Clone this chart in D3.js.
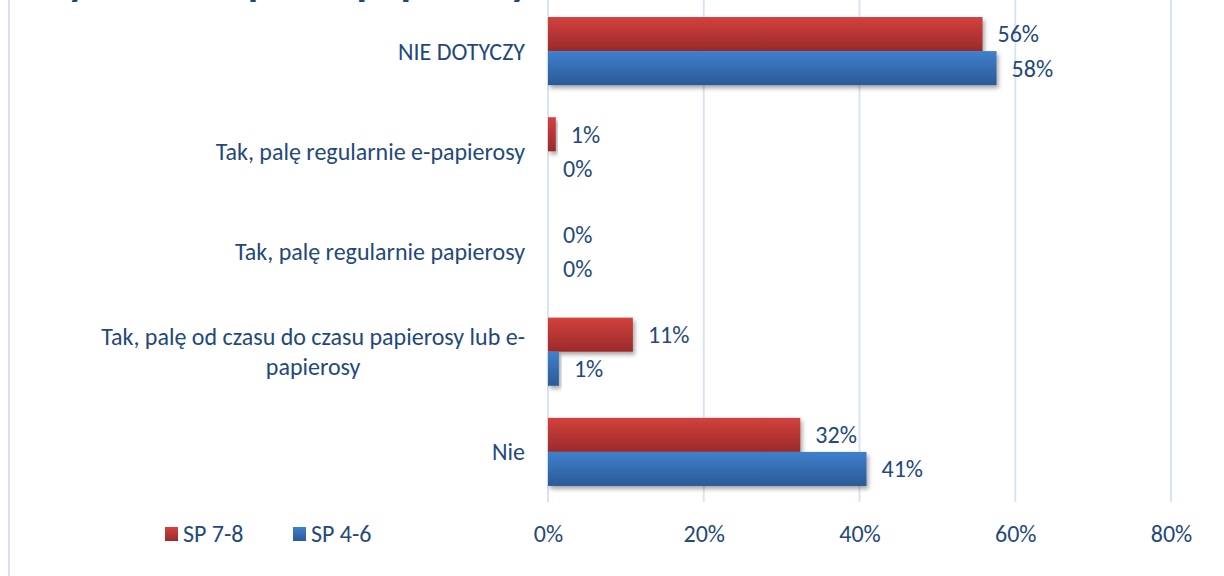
<!DOCTYPE html>
<html>
<head>
<meta charset="utf-8">
<script src="https://cdn.jsdelivr.net/npm/d3@7/dist/d3.min.js"></script>
<style>
  html, body { margin: 0; padding: 0; background: #fff; }
  svg { display: block; }
  text { font-family: Carlito, Lato, "Open Sans", sans-serif; fill: #1F497D; }
</style>
</head>
<body>
<svg id="chart" width="1224" height="576"></svg>
<script>
// ---- data ----
const titleText = "Czy obecnie palisz papierosy?";
const categories = [
  "NIE DOTYCZY",
  "Tak, palę regularnie e-papierosy",
  "Tak, palę regularnie papierosy",
  "Tak, palę od czasu do czasu papierosy lub e-papierosy",
  "Nie"
];
const seriesNames = ["SP 7-8", "SP 4-6"];
const sp78 = [55.8, 1.0, 0, 10.9, 32.4];
const sp46 = [57.6, 0, 0, 1.4, 40.9];
const xTicks = [0, 20, 40, 60, 80];

// ---- layout ----
const W = 1224, H = 576;
const FS = 24;
const plot = { left: 548, right: 1171, top: 1, bottom: 502 };
const svg = d3.select("#chart");

const defs = svg.append("defs");
const grads = [
  { id: "gRed", top: "#d3413d", bottom: "#9a2a2a" },
  { id: "gBlue", top: "#3f80cd", bottom: "#2b5a97" }
];
grads.forEach(g => {
  const lg = defs.append("linearGradient").attr("id", g.id)
    .attr("x1", 0).attr("y1", 0).attr("x2", 0).attr("y2", 1);
  lg.append("stop").attr("offset", "0%").attr("stop-color", g.top);
  lg.append("stop").attr("offset", "100%").attr("stop-color", g.bottom);
});
const f = defs.append("filter").attr("id", "shadow")
  .attr("x", "-10%").attr("y", "-20%").attr("width", "130%").attr("height", "160%");
f.append("feDropShadow").attr("dx", 2).attr("dy", 3).attr("stdDeviation", 2.2)
  .attr("flood-color", "#000").attr("flood-opacity", 0.35);

const fills = ["url(#gRed)", "url(#gBlue)"];

// frame left border
svg.append("line").attr("x1", 9).attr("x2", 9).attr("y1", 0).attr("y2", H)
  .attr("stroke", "#d8e2ef").attr("stroke-width", 2);

// title (mostly cut off at the top edge, as in the reference)
svg.append("text").attr("x", 28).attr("y", -5)
  .attr("font-size", 42).attr("font-weight", "bold")
  .attr("textLength", 522).attr("lengthAdjust", "spacingAndGlyphs")
  .text(titleText);

// scales
const x = d3.scaleLinear().domain([0, 80]).range([plot.left, plot.right]);
const y0 = d3.scaleBand().domain(categories).range([plot.top, plot.bottom])
  .paddingInner(0.32).paddingOuter(0.16);
const y1 = d3.scaleBand().domain(seriesNames).range([0, y0.bandwidth()]);

// gridlines
svg.append("g").selectAll("line").data(xTicks).join("line")
  .attr("x1", d => x(d)).attr("x2", d => x(d))
  .attr("y1", 0).attr("y2", plot.bottom)
  .attr("stroke", "#d9e4f3").attr("stroke-width", 2);

// x axis labels
const xAxis = d3.axisBottom(x).tickValues(xTicks).tickSize(0).tickFormat(d => d + "%");
const gx = svg.append("g").attr("transform", `translate(0,${526})`).call(xAxis);
gx.select(".domain").remove();
gx.selectAll("text").attr("font-size", FS).attr("fill", "#1F497D")
  .attr("font-family", "Carlito, Lato, 'Open Sans', sans-serif").attr("dy", 0).attr("y", 16);

// bars
const seriesData = [sp78, sp46];
seriesNames.forEach((s, si) => {
  const g = svg.append("g");
  g.selectAll("rect").data(categories).join("rect")
    .attr("x", x(0))
    .attr("y", c => y0(c) + y1(s))
    .attr("width", (c, i) => x(seriesData[si][i]) - x(0))
    .attr("height", y1.bandwidth())
    .attr("fill", fills[si])
    .attr("filter", "url(#shadow)");
  g.selectAll("text").data(categories).join("text")
    .attr("x", (c, i) => x(seriesData[si][i]) + 15)
    .attr("y", c => y0(c) + y1(s) + y1.bandwidth() / 2)
    .attr("dy", "0.35em")
    .attr("font-size", FS)
    .text((c, i) => Math.round(seriesData[si][i]) + "%");
});

// category labels with wrapping
const labelRight = 525;
const maxW = 450;
const lineH = 30;
const measure = svg.append("text").attr("font-size", FS).attr("x", -1000).attr("y", -1000);
function tw(s) { measure.text(s); return measure.node().getComputedTextLength(); }
categories.forEach(c => {
  const tokens = c.match(/[^\s-]+-?\s*|\s+/g);
  const lines = [];
  let cur = "";
  tokens.forEach(t => {
    if (cur && tw((cur + t).trim()) > maxW) { lines.push(cur.trim()); cur = t; }
    else cur += t;
  });
  if (cur.trim()) lines.push(cur.trim());
  const widths = lines.map(tw);
  const mw = d3.max(widths);
  const cy = y0(c) + y0.bandwidth() / 2;
  const t = svg.append("text").attr("font-size", FS).attr("text-anchor", "middle");
  lines.forEach((ln, li) => {
    t.append("tspan").attr("x", labelRight - mw / 2)
      .attr("y", cy + (li - (lines.length - 1) / 2) * lineH)
      .attr("dy", "0.35em").text(ln);
  });
});
measure.remove();

// legend
const legendX = [165, 293];
seriesNames.forEach((s, i) => {
  svg.append("rect").attr("x", legendX[i]).attr("y", 527).attr("width", 13).attr("height", 14)
    .attr("fill", fills[i]);
  svg.append("text").attr("x", legendX[i] + 18).attr("y", 534).attr("dy", "0.35em")
    .attr("font-size", FS).text(s);
});
</script>
</body>
</html>
